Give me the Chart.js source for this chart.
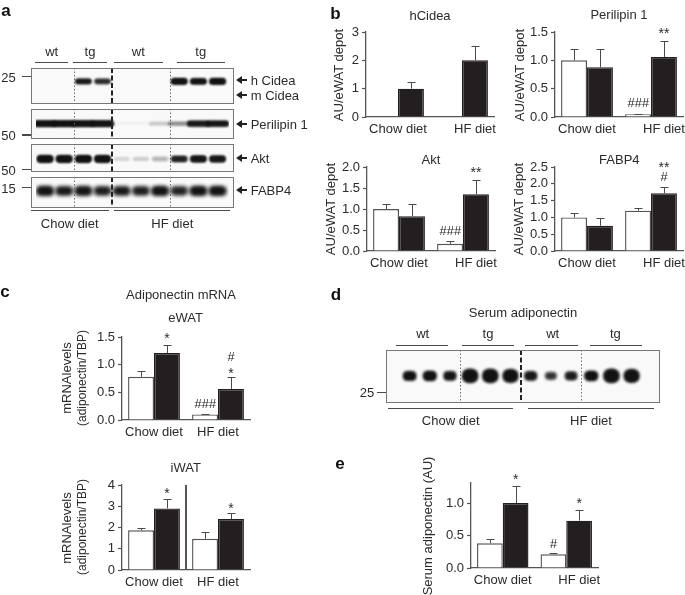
<!DOCTYPE html>
<html>
<head>
<meta charset="utf-8">
<script src="https://cdn.jsdelivr.net/npm/chart.js@4"></script>
<style>
html, body { margin: 0; padding: 0; background: #fff; }
#page { position: relative; width: 685px; height: 595px; overflow: hidden; font-family: "Liberation Sans", Arial, sans-serif; color: #2b2b2b; filter: blur(0.35px); }
#page canvas { position: absolute; }
.txt { position: absolute; white-space: nowrap; line-height: 1; }
.rule { position: absolute; background: #4a4a4a; }
</style>
</head>
<body>
<div id="page"></div>
<script>
// categories
const dietCats = ['Chow diet', 'HF diet'];

// panel b
const cideaWt = [null, null];
const cideaTg = [1.0, 2.0];
const cideaWtTop = [null, null];
const cideaTgTop = [1.25, 2.5];
const cideaTicks = ['0', '1', '2', '3'];

const perilipinWt = [1.0, 0.05];
const perilipinTg = [0.88, 1.06];
const perilipinWtTop = [1.2, 0.06];
const perilipinTgTop = [1.2, 1.34];
const perilipinTicks = ['0.0', '0.5', '1.0', '1.5'];

const aktWt = [1.0, 0.17];
const aktTg = [0.83, 1.35];
const aktWtTop = [1.12, 0.23];
const aktTgTop = [1.13, 1.68];
const aktTicks = ['0.0', '0.5', '1.0', '1.5', '2.0'];

const fabpWt = [1.0, 1.2];
const fabpTg = [0.75, 1.72];
const fabpWtTop = [1.14, 1.29];
const fabpTgTop = [0.97, 1.91];
const fabpTicks = ['0.0', '0.5', '1.0', '1.5', '2.0', '2.5'];

// panel c
const ewatWt = [0.78, 0.10];
const ewatTg = [1.21, 0.56];
const ewatWtTop = [0.89, 0.115];
const ewatTgTop = [1.35, 0.78];
const ewatTicks = ['0.0', '0.5', '1.0', '1.5'];

const iwatWt = [1.87, 1.47];
const iwatTg = [2.9, 2.4];
const iwatWtTop = [1.98, 1.77];
const iwatTgTop = [3.35, 2.67];
const iwatTicks = ['0', '1', '2', '3', '4'];

// panel e
const serumWt = [0.38, 0.21];
const serumTg = [1.0, 0.73];
const serumWtTop = [0.45, 0.23];
const serumTgTop = [1.26, 0.90];
const serumTicks = ['0.0', '0.5', '1.0'];

// blot band strength per lane (panel a)
const blotCidea = [0, 0, 0.7, 0.55, 0, 0, 0, 1, 0.85, 1];
const blotPerilipin = [1, 1, 1, 1, 0.02, 0.02, 0.12, 0.28, 0.85, 0.9];
const blotAkt = [1, 1, 1, 1, 0.08, 0.1, 0.16, 0.75, 0.9, 0.85];
const blotFabp = [1, 0.9, 0.95, 0.85, 0.9, 0.85, 1, 0.8, 1, 1];
// panel d
const blotSerum = [0.6, 0.65, 0.55, 1, 1, 0.95, 0.55, 0.4, 0.5, 0.65, 1, 0.95];

const page = document.getElementById('page');

function addCanvas(x, y, w, h) {
    const c = document.createElement('canvas');
    c.width = w;
    c.height = h;
    c.style.left = x + 'px';
    c.style.top = y + 'px';
    c.style.width = w + 'px';
    c.style.height = h + 'px';
    page.appendChild(c);
    return c;
}

// plain text on the page
function text(str, x, y, opts) {
    opts = opts || {};
    const d = document.createElement('div');
    d.className = 'txt';
    d.textContent = str;
    d.style.left = x + 'px';
    d.style.top = y + 'px';
    d.style.fontSize = (opts.size || 13) + 'px';
    if (opts.bold) {
        d.style.fontWeight = 'bold';
        d.style.color = '#111';
    }
    let tf = opts.left ? 'translate(0,-50%)' : 'translate(-50%,-50%)';
    if (opts.vertical) tf += ' rotate(-90deg)';
    d.style.transform = tf;
    page.appendChild(d);
}

function rule(x1, x2, y, h) {
    const d = document.createElement('div');
    d.className = 'rule';
    d.style.left = x1 + 'px';
    d.style.top = (y - (h || 1) / 2) + 'px';
    d.style.width = (x2 - x1) + 'px';
    d.style.height = (h || 1) + 'px';
    page.appendChild(d);
}

function arrow(x, y) {
    const line = document.createElement('div');
    line.style.cssText = 'position:absolute;background:#222;width:7px;height:2px;';
    line.style.left = (x + 4) + 'px';
    line.style.top = (y - 1) + 'px';
    page.appendChild(line);
    const d = document.createElement('div');
    d.style.cssText = 'position:absolute;width:0;height:0;border-top:4px solid transparent;' +
        'border-bottom:4px solid transparent;border-right:6px solid #222;';
    d.style.left = x + 'px';
    d.style.top = (y - 4) + 'px';
    page.appendChild(d);
}

// error bars, star labels and the shifted category labels
const barExtras = {
    id: 'barExtras',
    afterDatasetsDraw(chart, args, opts) {
        const ctx = chart.ctx;
        ctx.save();
        ctx.strokeStyle = '#4a4a4a';
        ctx.lineWidth = 1;
        chart.data.datasets.forEach((ds, di) => {
            const meta = chart.getDatasetMeta(di);
            ds.errTop.forEach((top, i) => {
                if (top === null) return;
                const x = Math.round(meta.data[i].x) + 0.5;
                const y0 = chart.scales.y.getPixelForValue(ds.data[i]);
                const y1 = Math.round(chart.scales.y.getPixelForValue(top)) + 0.5;
                ctx.beginPath();
                ctx.moveTo(x, y0);
                ctx.lineTo(x, y1);
                ctx.moveTo(x - 4, y1);
                ctx.lineTo(x + 4, y1);
                ctx.stroke();
            });
        });
        ctx.textAlign = 'center';
        ctx.textBaseline = 'middle';
        ctx.fillStyle = '#2b2b2b';
        (opts.marks || []).forEach(m => {
            const el = chart.getDatasetMeta(m[1]).data[m[0]];
            const y = chart.scales.y.getPixelForValue(m[3]);
            ctx.font = m[2].includes('#') ? 'italic 13px "Liberation Sans"' : '14px "Liberation Sans"';
            ctx.fillText(m[2], el.x, y + (m[2].includes('*') ? 2 : 0));
        });
        ctx.font = '13px "Liberation Sans"';
        const sc = chart.scales.x;
        chart.data.labels.forEach((lab, i) => {
            const shift = i === 1 ? (opts.hfShift || 0) : 0;
            ctx.fillText(lab, sc.getPixelForValue(i) + shift, chart.scales.y.bottom + 12);
        });
        if (opts.divider) {
            const mid = (sc.getPixelForValue(0) + sc.getPixelForValue(1)) / 2;
            ctx.strokeStyle = '#555';
            ctx.lineWidth = 2;
            ctx.beginPath();
            ctx.moveTo(mid, chart.scales.y.top);
            ctx.lineTo(mid, chart.scales.y.bottom);
            ctx.stroke();
        }
        ctx.restore();
    }
};

function barPanel(plot, cfg) {
    const padL = 40, padT = 26, padR = 12, padB = 24;
    const w = Math.round(plot.r - plot.l);
    const h = Math.round(plot.b - plot.t);
    const canvas = addCanvas(Math.round(plot.l) - padL, Math.round(plot.t) - padT, w + padL + padR, h + padT + padB);
    const labels = cfg.ticks;
    new Chart(canvas.getContext('2d'), {
        type: 'bar',
        data: {
            labels: dietCats,
            datasets: [
                { data: cfg.wt, errTop: cfg.wtTop, backgroundColor: '#fff', borderColor: '#555', borderWidth: 1.4 },
                { data: cfg.tg, errTop: cfg.tgTop, backgroundColor: '#231f20', borderColor: '#231f20', borderWidth: 1.4 }
            ]
        },
        plugins: [barExtras],
        options: {
            responsive: false,
            animation: false,
            datasets: { bar: { categoryPercentage: 0.81, barPercentage: 1 } },
            layout: { padding: { left: 0, top: padT, right: padR, bottom: 0 } },
            plugins: {
                legend: { display: false },
                tooltip: { enabled: false },
                barExtras: { marks: cfg.marks, hfShift: cfg.hfShift, divider: cfg.divider }
            },
            scales: {
                x: {
                    afterFit(s) { s.height = padB; },
                    grid: { display: false },
                    border: { color: '#555', width: 1.3 },
                    ticks: { display: false }
                },
                y: {
                    afterFit(s) { s.width = padL; },
                    min: 0,
                    max: cfg.max || Number(labels[labels.length - 1]),
                    grid: { drawOnChartArea: false, tickLength: 4, tickColor: '#555', tickWidth: 1.2 },
                    border: { color: '#555', width: 1.3 },
                    ticks: {
                        stepSize: labels[1] - labels[0],
                        includeBounds: false,
                        autoSkip: false,
                        padding: 3,
                        color: '#2b2b2b',
                        font: { family: '"Liberation Sans"', size: 13 },
                        callback: (v, i) => labels[i]
                    }
                }
            }
        }
    });
}

// one blurred band picture, handed to Chart.js as the point style
const bandCache = {};
function bandImage(s, look) {
    const key = [s, look.w, look.h, look.blur, look.grow || 0, look.gain || 1].join('_');
    if (bandCache[key]) return bandCache[key];
    const scale = look.grow ? 1 - look.grow + look.grow * s : 1;
    const bw = look.w * scale;
    const bh = look.h * (0.55 + 0.45 * s) * scale;
    const c = document.createElement('canvas');
    c.width = Math.ceil(look.w + look.blur * 8);
    c.height = Math.ceil(look.h + look.blur * 8);
    const g = c.getContext('2d');
    g.filter = 'blur(' + look.blur + 'px)';
    g.fillStyle = 'rgba(18,18,18,' + Math.min(1, s * (look.gain || 1)) + ')';
    for (let k = 0; k < 2; k++) {
        g.beginPath();
        g.roundRect((c.width - bw) / 2, (c.height - bh) / 2, bw, bh, bh * 0.45);
        g.fill();
    }
    bandCache[key] = c;
    return c;
}

const stripFrame = {
    id: 'stripFrame',
    beforeDraw(chart) {
        const ctx = chart.ctx;
        ctx.save();
        ctx.fillStyle = '#f9f9f9';
        ctx.fillRect(0, 0, chart.width, chart.height);
        ctx.restore();
    },
    afterDraw(chart, args, opts) {
        const ctx = chart.ctx;
        const sc = chart.scales.x;
        ctx.save();
        ctx.strokeStyle = '#6b6b6b';
        ctx.lineWidth = 1;
        ctx.setLineDash([1.5, 2]);
        opts.dotted.forEach(v => {
            const x = Math.round(sc.getPixelForValue(v)) + 0.5;
            ctx.beginPath();
            ctx.moveTo(x, 0);
            ctx.lineTo(x, chart.height);
            ctx.stroke();
        });
        ctx.strokeStyle = '#222';
        ctx.lineWidth = 2;
        ctx.setLineDash([5, 2.5]);
        opts.heavy.forEach(v => {
            const x = Math.round(sc.getPixelForValue(v));
            ctx.beginPath();
            ctx.moveTo(x, 0);
            ctx.lineTo(x, chart.height);
            ctx.stroke();
        });
        ctx.setLineDash([]);
        ctx.strokeStyle = '#777';
        ctx.lineWidth = 1;
        ctx.strokeRect(0.5, 0.5, chart.width - 1, chart.height - 1);
        ctx.restore();
    }
};

function blotStrip(box, strengths, row, look, lanes, seps) {
    const canvas = addCanvas(box.x, box.y, box.w, box.h);
    new Chart(canvas.getContext('2d'), {
        type: 'scatter',
        data: {
            datasets: [{
                data: strengths.map((s, i) => ({ x: i, y: row })),
                showLine: false,
                pointRadius: 1,
                pointStyle: c => {
                    const s = strengths[c.dataIndex];
                    return s === undefined ? 'circle' : bandImage(s, look);
                }
            }]
        },
        plugins: [stripFrame],
        options: {
            responsive: false,
            animation: false,
            layout: { padding: 0 },
            plugins: {
                legend: { display: false },
                tooltip: { enabled: false },
                stripFrame: seps
            },
            scales: {
                x: { type: 'linear', display: false, min: lanes[0], max: lanes[1] },
                y: { type: 'linear', display: false, min: 0, max: 1, reverse: true }
            }
        }
    });
}

function buildPanelA() {
    const lanes = [-0.47, 9.6];
    const seps = { dotted: [1.5, 6.5], heavy: [3.5] };
    blotStrip({ x: 31, y: 68, w: 203, h: 36 }, blotCidea, 0.32, { w: 16, h: 6, blur: 1.2, gain: 1.25 }, lanes, seps);
    blotStrip({ x: 31, y: 109, w: 203, h: 30 }, blotPerilipin, 0.48, { w: 22, h: 6, blur: 1.2 }, lanes, seps);
    blotStrip({ x: 31, y: 144, w: 203, h: 28 }, blotAkt, 0.55, { w: 16, h: 7, blur: 1.3 }, lanes, seps);
    blotStrip({ x: 31, y: 177, w: 203, h: 31 }, blotFabp, 0.42, { w: 16, h: 8, blur: 2.2 }, lanes, seps);

    text('a', 6, 10, { size: 17, bold: true });
    [['wt', 51.7], ['tg', 90], ['wt', 138.3], ['tg', 200.7]].forEach(t => text(t[0], t[1], 50.7));
    rule(35.3, 68.3, 62.7);
    rule(73.3, 106.7, 62.7);
    rule(114, 162.7, 62.7);
    rule(176.7, 225, 62.7);
    rule(30.7, 108.7, 210.7);
    rule(114, 230, 210.7);
    text('Chow diet', 69.7, 222.5);
    text('HF diet', 172.3, 222.5);

    [['25', 76.5], ['50', 135], ['50', 169.5], ['15', 187.7]].forEach(t => {
        text(t[0], 8.5, t[1]);
        rule(21.5, 30.5, t[1], 1.6);
    });
    [['h Cidea', 80.3], ['m Cidea', 94.7], ['Perilipin 1', 124], ['Akt', 158.3], ['FABP4', 190]].forEach(t => {
        arrow(236, t[1]);
        text(t[0], 250.7, t[1], { left: true });
    });
}

function buildPanelB() {
    text('b', 335.5, 13, { size: 17, bold: true });
    text('hCidea', 430, 15);
    text('Perilipin 1', 619, 14);
    text('Akt', 431, 158.7);
    text('FABP4', 619.3, 158.7);
    text('AU/eWAT depot', 338.3, 75, { vertical: true });
    text('AU/eWAT depot', 519, 75, { vertical: true });
    text('AU/eWAT depot', 330, 209, { vertical: true });
    text('AU/eWAT depot', 518, 209, { vertical: true });

    barPanel({ l: 366, r: 494, t: 32, b: 117 }, {
        wt: cideaWt, tg: cideaTg, wtTop: cideaWtTop, tgTop: cideaTgTop, ticks: cideaTicks, hfShift: 13
    });
    barPanel({ l: 555, r: 683, t: 32, b: 117 }, {
        wt: perilipinWt, tg: perilipinTg, wtTop: perilipinWtTop, tgTop: perilipinTgTop, ticks: perilipinTicks, hfShift: 13,
        marks: [[1, 1, '**', 1.5], [1, 0, '###', 0.24]]
    });
    barPanel({ l: 367, r: 495, t: 167, b: 251 }, {
        wt: aktWt, tg: aktTg, wtTop: aktWtTop, tgTop: aktTgTop, ticks: aktTicks, hfShift: 13,
        marks: [[1, 1, '**', 1.9], [1, 0, '###', 0.476]]
    });
    barPanel({ l: 555, r: 683, t: 167, b: 251 }, {
        wt: fabpWt, tg: fabpTg, wtTop: fabpWtTop, tgTop: fabpTgTop, ticks: fabpTicks, hfShift: 13,
        marks: [[1, 1, '**', 2.52], [1, 1, '#', 2.18]]
    });
}

function buildPanelC() {
    text('c', 5, 291, { size: 17, bold: true });
    text('Adiponectin mRNA', 181, 294.3);
    text('eWAT', 185.7, 316.7);
    text('iWAT', 185.7, 466.7);
    text('mRNAlevels', 65.7, 378, { vertical: true });
    text('(adiponectin/TBP)', 81.7, 378, { vertical: true, size: 12 });
    text('mRNAlevels', 65.7, 527.5, { vertical: true });
    text('(adiponectin/TBP)', 81.7, 526.5, { vertical: true, size: 12 });

    barPanel({ l: 122, r: 250, t: 337, b: 420 }, {
        wt: ewatWt, tg: ewatTg, wtTop: ewatWtTop, tgTop: ewatTgTop, ticks: ewatTicks,
        marks: [[0, 1, '*', 1.49], [1, 1, '#', 1.13], [1, 1, '*', 0.86], [1, 0, '###', 0.28]]
    });
    barPanel({ l: 122, r: 250, t: 485, b: 570 }, {
        wt: iwatWt, tg: iwatTg, wtTop: iwatWtTop, tgTop: iwatTgTop, ticks: iwatTicks, divider: true,
        marks: [[0, 1, '*', 3.68], [1, 1, '*', 2.98]]
    });
}

function buildPanelD() {
    text('d', 336, 294, { size: 17, bold: true });
    text('Serum adiponectin', 523, 312.3);
    blotStrip({ x: 386, y: 350, w: 274, h: 53 }, blotSerum, 0.485, { w: 15, h: 13, blur: 1.6, grow: 0.45, gain: 1.6 },
        [-0.92, 12.16], { dotted: [2.5, 8.5], heavy: [5.5] });
    [['wt', 422.7], ['tg', 488], ['wt', 552.7], ['tg', 615.3]].forEach(t => text(t[0], t[1], 333.3));
    rule(395.7, 447.7, 345);
    rule(462, 514, 345);
    rule(525.3, 578, 345);
    rule(589.7, 641.7, 345);
    rule(388.3, 513.3, 408.7);
    rule(528.3, 654, 408.7);
    text('Chow diet', 450.7, 420);
    text('HF diet', 591, 420);
    text('25', 367, 392.3);
    rule(376.7, 386, 392.3, 1.6);
}

function buildPanelE() {
    text('e', 340, 463, { size: 17, bold: true });
    text('Serum adiponectin (AU)', 427.3, 526, { vertical: true });
    barPanel({ l: 471, r: 598, t: 483, b: 568 }, {
        wt: serumWt, tg: serumTg, wtTop: serumWtTop, tgTop: serumTgTop, ticks: serumTicks, max: 1.31, hfShift: 13,
        marks: [[0, 1, '*', 1.38], [1, 1, '*', 1.015], [1, 0, '#', 0.36]]
    });
}

document.addEventListener('DOMContentLoaded', function() {
    buildPanelA();
    buildPanelB();
    buildPanelC();
    buildPanelD();
    buildPanelE();
});
</script>
</body>
</html>
